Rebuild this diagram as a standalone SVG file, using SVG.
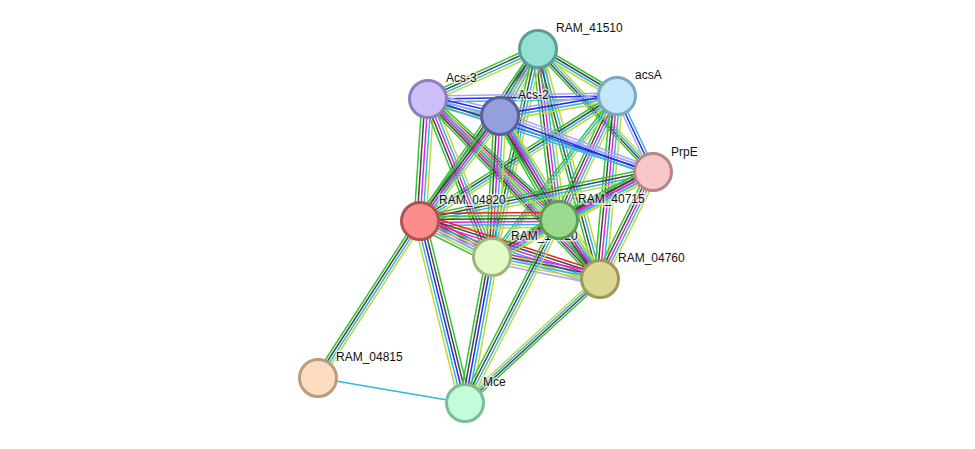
<svg xmlns="http://www.w3.org/2000/svg" xmlns:xlink="http://www.w3.org/1999/xlink" width="975" height="449" viewBox="0 0 975 449">
<style>
.cg{stroke:#35c435}.ck{stroke:#474747}.cm{stroke:#d82ad8}.cc{stroke:#2fb8dc}.cy{stroke:#c3d63c}.cb{stroke:#2a2ae8}.cp{stroke:#a6a6f6}.cr{stroke:#ee2222}
.node circle{stroke-width:3}
.lbl{font-family:"Liberation Sans",Arial,sans-serif;font-size:12px;fill:#111;stroke:#fff;stroke-width:3;stroke-opacity:0.6;paint-order:stroke}
</style>
<defs>
<line id="AC" x1="538" y1="49" x2="428" y2="99"/>
<line id="AB" x1="538" y1="49" x2="617" y2="96"/>
<line id="AD" x1="538" y1="49" x2="500" y2="116"/>
<line id="AE" x1="538" y1="49" x2="653" y2="172"/>
<line id="AF" x1="538" y1="49" x2="420" y2="221"/>
<line id="AG" x1="538" y1="49" x2="559" y2="220"/>
<line id="AH" x1="538" y1="49" x2="492" y2="257"/>
<line id="AI" x1="538" y1="49" x2="600" y2="279"/>
<line id="BC" x1="617" y1="96" x2="428" y2="99"/>
<line id="BD" x1="617" y1="96" x2="500" y2="116"/>
<line id="BE" x1="617" y1="96" x2="653" y2="172"/>
<line id="BF" x1="617" y1="96" x2="420" y2="221"/>
<line id="BG" x1="617" y1="96" x2="559" y2="220"/>
<line id="BH" x1="617" y1="96" x2="492" y2="257"/>
<line id="BI" x1="617" y1="96" x2="600" y2="279"/>
<line id="CD" x1="428" y1="99" x2="500" y2="116"/>
<line id="CE" x1="428" y1="99" x2="653" y2="172"/>
<line id="CF" x1="428" y1="99" x2="420" y2="221"/>
<line id="CG" x1="428" y1="99" x2="559" y2="220"/>
<line id="CH" x1="428" y1="99" x2="492" y2="257"/>
<line id="CI" x1="428" y1="99" x2="600" y2="279"/>
<line id="DE" x1="500" y1="116" x2="653" y2="172"/>
<line id="DF" x1="500" y1="116" x2="420" y2="221"/>
<line id="DG" x1="500" y1="116" x2="559" y2="220"/>
<line id="DH" x1="500" y1="116" x2="492" y2="257"/>
<line id="DI" x1="500" y1="116" x2="600" y2="279"/>
<line id="EF" x1="653" y1="172" x2="420" y2="221"/>
<line id="EG" x1="653" y1="172" x2="559" y2="220"/>
<line id="EH" x1="653" y1="172" x2="492" y2="257"/>
<line id="EI" x1="653" y1="172" x2="600" y2="279"/>
<line id="FG" x1="420" y1="221" x2="559" y2="220"/>
<line id="FH" x1="420" y1="221" x2="492" y2="257"/>
<line id="FI" x1="420" y1="221" x2="600" y2="279"/>
<line id="GH" x1="559" y1="220" x2="492" y2="257"/>
<line id="GI" x1="559" y1="220" x2="600" y2="279"/>
<line id="HI" x1="492" y1="257" x2="600" y2="279"/>
<line id="FK" x1="420" y1="221" x2="465" y2="403"/>
<line id="HK" x1="492" y1="257" x2="465" y2="403"/>
<line id="GK" x1="559" y1="220" x2="465" y2="403"/>
<line id="IK" x1="600" y1="279" x2="465" y2="403"/>
<line id="FJ" x1="420" y1="221" x2="318" y2="378"/>
</defs>
<rect width="975" height="449" fill="#fff"/>
<g id="connectors" stroke-width="1.5" fill="none">
<use href="#AC" y="-4.5" class="cg"/><use href="#AC" y="-1.5" class="ck"/><use href="#AC" y="1.5" class="cc"/><use href="#AC" y="4.5" class="cy"/>
<use href="#AB" y="-4.5" class="cg"/><use href="#AB" y="-1.5" class="ck"/><use href="#AB" y="1.5" class="cc"/><use href="#AB" y="4.5" class="cy"/>
<use href="#AD" x="-6" class="cg"/><use href="#AD" x="-3" class="ck"/><use href="#AD" x="0" class="cm"/><use href="#AD" x="3" class="cc"/><use href="#AD" x="6" class="cy"/>
<use href="#AE" x="-4.5" class="cg"/><use href="#AE" x="-1.5" class="ck"/><use href="#AE" x="1.5" class="cc"/><use href="#AE" x="4.5" class="cy"/>
<use href="#AF" x="-4.5" class="cg"/><use href="#AF" x="-1.5" class="ck"/><use href="#AF" x="1.5" class="cc"/><use href="#AF" x="4.5" class="cy"/>
<use href="#AG" x="-6" class="cg"/><use href="#AG" x="-3" class="ck"/><use href="#AG" x="0" class="cm"/><use href="#AG" x="3" class="cc"/><use href="#AG" x="6" class="cy"/>
<use href="#AH" x="-4.5" class="cg"/><use href="#AH" x="-1.5" class="ck"/><use href="#AH" x="1.5" class="cc"/><use href="#AH" x="4.5" class="cy"/>
<use href="#AI" x="-4.5" class="cg"/><use href="#AI" x="-1.5" class="ck"/><use href="#AI" x="1.5" class="cc"/><use href="#AI" x="4.5" class="cy"/>
<use href="#BC" y="-3" class="cp"/><use href="#BC" y="0" class="cb"/><use href="#BC" y="3" class="cc"/>
<use href="#BD" y="-4.5" class="cp"/><use href="#BD" y="-1.5" class="cb"/><use href="#BD" y="1.5" class="cc"/><use href="#BD" y="4.5" class="cy"/>
<use href="#BE" x="-3" class="cp"/><use href="#BE" x="0" class="cb"/><use href="#BE" x="3" class="cc"/>
<use href="#BF" y="-4.5" class="cg"/><use href="#BF" y="-1.5" class="ck"/><use href="#BF" y="1.5" class="cc"/><use href="#BF" y="4.5" class="cy"/>
<use href="#BG" x="-6" class="cg"/><use href="#BG" x="-3" class="ck"/><use href="#BG" x="0" class="cm"/><use href="#BG" x="3" class="cc"/><use href="#BG" x="6" class="cy"/>
<use href="#BH" x="-3" class="cg"/><use href="#BH" x="0" class="cc"/><use href="#BH" x="3" class="cy"/>
<use href="#BI" x="-6" class="cg"/><use href="#BI" x="-3" class="ck"/><use href="#BI" x="0" class="cm"/><use href="#BI" x="3" class="cc"/><use href="#BI" x="6" class="cy"/>
<use href="#CD" y="-6" class="cp"/><use href="#CD" y="-3" class="cb"/><use href="#CD" y="0" class="cc"/><use href="#CD" y="3" class="cg"/><use href="#CD" y="6" class="cy"/>
<use href="#CE" y="-3" class="cp"/><use href="#CE" y="0" class="cb"/><use href="#CE" y="3" class="cc"/>
<use href="#CF" x="-6" class="cg"/><use href="#CF" x="-3" class="ck"/><use href="#CF" x="0" class="cm"/><use href="#CF" x="3" class="cc"/><use href="#CF" x="6" class="cy"/>
<use href="#CG" y="-6" class="cg"/><use href="#CG" y="-3" class="ck"/><use href="#CG" y="0" class="cm"/><use href="#CG" y="3" class="cc"/><use href="#CG" y="6" class="cy"/>
<use href="#CH" x="-6" class="cg"/><use href="#CH" x="-3" class="ck"/><use href="#CH" x="0" class="cm"/><use href="#CH" x="3" class="cc"/><use href="#CH" x="6" class="cy"/>
<use href="#CI" x="-6" class="cg"/><use href="#CI" x="-3" class="ck"/><use href="#CI" x="0" class="cm"/><use href="#CI" x="3" class="cc"/><use href="#CI" x="6" class="cy"/>
<use href="#DE" y="-4.5" class="cp"/><use href="#DE" y="-1.5" class="cp"/><use href="#DE" y="1.5" class="cb"/><use href="#DE" y="4.5" class="cc"/>
<use href="#DF" x="-6" class="cg"/><use href="#DF" x="-3" class="ck"/><use href="#DF" x="0" class="cm"/><use href="#DF" x="3" class="cc"/><use href="#DF" x="6" class="cy"/>
<use href="#DG" x="-6" class="cg"/><use href="#DG" x="-3" class="ck"/><use href="#DG" x="0" class="cm"/><use href="#DG" x="3" class="cc"/><use href="#DG" x="6" class="cy"/>
<use href="#DH" x="-6" class="cg"/><use href="#DH" x="-3" class="ck"/><use href="#DH" x="0" class="cm"/><use href="#DH" x="3" class="cc"/><use href="#DH" x="6" class="cy"/>
<use href="#DI" x="-6" class="cg"/><use href="#DI" x="-3" class="ck"/><use href="#DI" x="0" class="cm"/><use href="#DI" x="3" class="cc"/><use href="#DI" x="6" class="cy"/>
<use href="#EF" y="-4.5" class="cg"/><use href="#EF" y="-1.5" class="ck"/><use href="#EF" y="1.5" class="cc"/><use href="#EF" y="4.5" class="cy"/>
<use href="#EG" y="-6" class="cg"/><use href="#EG" y="-3" class="ck"/><use href="#EG" y="0" class="cm"/><use href="#EG" y="3" class="cc"/><use href="#EG" y="6" class="cy"/>
<use href="#EH" y="-6" class="cg"/><use href="#EH" y="-3" class="ck"/><use href="#EH" y="0" class="cm"/><use href="#EH" y="3" class="cc"/><use href="#EH" y="6" class="cy"/>
<use href="#EI" x="-6" class="cg"/><use href="#EI" x="-3" class="ck"/><use href="#EI" x="0" class="cm"/><use href="#EI" x="3" class="cc"/><use href="#EI" x="6" class="cy"/>
<use href="#FG" y="-7.5" class="cr"/><use href="#FG" y="-4.5" class="cg"/><use href="#FG" y="-1.5" class="ck"/><use href="#FG" y="1.5" class="cm"/><use href="#FG" y="4.5" class="cc"/><use href="#FG" y="7.5" class="cy"/>
<use href="#FH" y="-7.5" class="cr"/><use href="#FH" y="-4.5" class="ck"/><use href="#FH" y="-1.5" class="cm"/><use href="#FH" y="1.5" class="cc"/><use href="#FH" y="4.5" class="cy"/><use href="#FH" y="7.5" class="cg"/>
<use href="#FI" y="-7.5" class="cr"/><use href="#FI" y="-4.5" class="ck"/><use href="#FI" y="-1.5" class="cm"/><use href="#FI" y="1.5" class="cc"/><use href="#FI" y="4.5" class="cy"/><use href="#FI" y="7.5" class="cp"/>
<use href="#GH" y="-6" class="cg"/><use href="#GH" y="-3" class="ck"/><use href="#GH" y="0" class="cm"/><use href="#GH" y="3" class="cc"/><use href="#GH" y="6" class="cy"/>
<use href="#GI" x="-6" class="cg"/><use href="#GI" x="-3" class="ck"/><use href="#GI" x="0" class="cm"/><use href="#GI" x="3" class="cc"/><use href="#GI" x="6" class="cy"/>
<use href="#HI" y="-6" class="cm"/><use href="#HI" y="-3" class="ck"/><use href="#HI" y="0" class="cc"/><use href="#HI" y="3" class="cy"/><use href="#HI" y="6" class="cp"/>
<use href="#FK" x="-6" class="cy"/><use href="#FK" x="-3" class="cc"/><use href="#FK" x="0" class="cb"/><use href="#FK" x="3" class="ck"/><use href="#FK" x="6" class="cg"/>
<use href="#HK" x="-6" class="cg"/><use href="#HK" x="-3" class="ck"/><use href="#HK" x="0" class="cb"/><use href="#HK" x="3" class="cc"/><use href="#HK" x="6" class="cy"/>
<use href="#GK" x="-4.5" class="cg"/><use href="#GK" x="-1.5" class="ck"/><use href="#GK" x="1.5" class="cc"/><use href="#GK" x="4.5" class="cy"/>
<use href="#IK" y="-4.5" class="cy"/><use href="#IK" y="-1.5" class="cc"/><use href="#IK" y="1.5" class="ck"/><use href="#IK" y="4.5" class="cg"/>
<use href="#FJ" x="-4.5" class="cg"/><use href="#FJ" x="-1.5" class="ck"/><use href="#FJ" x="1.5" class="cc"/><use href="#FJ" x="4.5" class="cy"/>
<line x1="318" y1="378" x2="465" y2="403" class="cc"/>
</g>
<g id="RAM_04815" class="node"><circle cx="318" cy="378" r="18.5" fill="#fddcc0" stroke="#bb9c7c"/><text class="lbl" x="336" y="361">RAM_04815</text></g>
<g id="Mce" class="node"><circle cx="465" cy="403" r="18.5" fill="#c2fcd9" stroke="#7dbd96"/><text class="lbl" x="483" y="386">Mce</text></g>
<g id="RAM_04820" class="node"><circle cx="420" cy="221" r="18.5" fill="#fb8d8d" stroke="#b45252"/><text class="lbl" x="439" y="204">RAM_04820</text></g>
<g id="RAM_14020" class="node"><circle cx="492" cy="257" r="18.5" fill="#e3fcc7" stroke="#9fb77d"/><text class="lbl" x="511" y="240">RAM_14020</text></g>
<g id="RAM_40715" class="node"><circle cx="559" cy="220" r="18.5" fill="#9cda8f" stroke="#5f9d57"/><text class="lbl" x="578" y="203">RAM_40715</text></g>
<g id="RAM_04760" class="node"><circle cx="600" cy="279" r="18.5" fill="#dcd894" stroke="#9c9a56"/><text class="lbl" x="618" y="262">RAM_04760</text></g>
<g id="PrpE" class="node"><circle cx="653" cy="172" r="18.5" fill="#f8c7c7" stroke="#b88686"/><text class="lbl" x="671" y="156">PrpE</text></g>
<g id="Acs-3" class="node"><circle cx="428" cy="99" r="18.5" fill="#cdbff9" stroke="#8f7cc1"/><text class="lbl" x="446" y="82">Acs-3</text></g>
<g id="Acs-2" class="node"><circle cx="500" cy="116" r="18.5" fill="#949fde" stroke="#5a619a"/><text class="lbl" x="518" y="99">Acs-2</text></g>
<g id="RAM_41510" class="node"><circle cx="538" cy="49" r="18.5" fill="#97e0d6" stroke="#5a9f97"/><text class="lbl" x="556" y="32">RAM_41510</text></g>
<g id="acsA" class="node"><circle cx="617" cy="96" r="18.5" fill="#c3e7fb" stroke="#7aa9c1"/><text class="lbl" x="635" y="79">acsA</text></g>
</svg>
